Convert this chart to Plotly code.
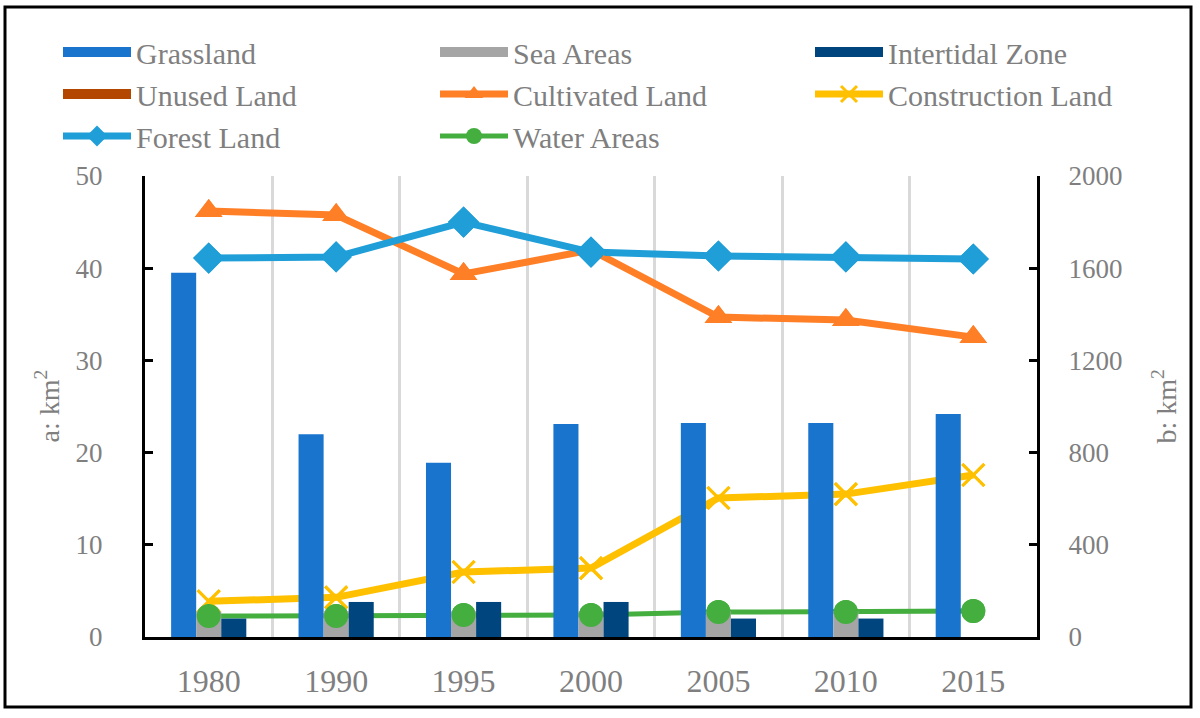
import plotly.graph_objects as go

years = ["1980", "1990", "1995", "2000", "2005", "2010", "2015"]

# left axis (a: km2) - bars
grassland = [39.5, 22.0, 18.9, 23.1, 23.2, 23.2, 24.2]
sea_areas = [2.8, 2.8, 2.8, 2.8, 2.8, 2.8, 0]
intertidal = [2.0, 3.8, 3.8, 3.8, 2.0, 2.0, 0]
unused = [0, 0, 0, 0, 0, 0, 0]

# right axis (b: km2) - lines
cultivated = [1848, 1831, 1575, 1679, 1388, 1375, 1301]
construction = [155, 172, 282, 299, 603, 620, 703]
forest = [1644, 1649, 1800, 1670, 1653, 1649, 1640]
water = [91, 91, 95, 95, 108, 108, 113]

left_ticks = [0, 10, 20, 30, 40, 50]
right_ticks = [0, 400, 800, 1200, 1600, 2000]

FONT = "Liberation Serif"
GREY = "#7f7f7f"

# plot area in px
L, R, T, B = 145, 163, 176, 81
W, H = 1200, 718
PW, PH = W - L - R, H - T - B


def px_x(p):
    return (p - L) / PW


def px_y(p):
    return (H - B - p) / PH


fig = go.Figure()

bars = [
    ("Grassland", grassland, "#1874CD", "legend", "y2"),
    ("Sea Areas", sea_areas, "#A5A5A5", "legend2", "y2"),
    ("Intertidal Zone", intertidal, "#00457E", "legend3", "y2"),
    ("Unused Land", unused, "#B34700", "legend", "y"),
]
for name, vals, col, lg, ax in bars:
    # legend entry drawn as a wide colour patch, like the reference
    fig.add_trace(go.Scatter(x=[None], y=[None], name=name, mode="lines", yaxis="y",
                             line=dict(color=col, width=18), legend=lg, legendgroup=name))
    fig.add_trace(go.Bar(x=years, y=vals, name=name, yaxis=ax, showlegend=False,
                         legendgroup=name, marker=dict(color=col, line=dict(width=0))))

lines = [
    ("Cultivated Land", cultivated, "#FF7F27", "triangle-up", 24, 7, "legend2"),
    ("Construction Land", construction, "#FFC000", "x-thin", 22, 7, "legend3"),
    ("Forest Land", forest, "#1F9ED8", "diamond", 24, 7, "legend"),
    ("Water Areas", water, "#44AE3F", "circle", 24, 5, "legend2"),
]
for name, vals, col, sym, sz, lw, lg in lines:
    mk = dict(symbol=sym, size=sz, color=col)
    if sym == "x-thin":
        mk["line"] = dict(color=col, width=3)
    fig.add_trace(go.Scatter(x=years, y=vals, name=name, mode="lines+markers", yaxis="y",
                             line=dict(color=col, width=lw), marker=mk, legend=lg,
                             legendgroup=name))
for name, vals, col, sym, sz, lw, lg in lines:
    mk = dict(symbol=sym, size=sz, color=col)
    if sym == "x-thin":
        mk["line"] = dict(color=col, width=3)
    fig.add_trace(go.Scatter(x=years, y=vals, name=name, mode="markers", yaxis="y3",
                             marker=mk, showlegend=False, legendgroup=name,
                             hoverinfo="skip"))

axis_common = dict(
    showline=True, linecolor="black", linewidth=3,
    ticks="inside", ticklen=8, tickwidth=3, tickcolor="black",
    showgrid=False, zeroline=False,
    tickfont=dict(family=FONT, size=27, color=GREY),
)

legend_common = dict(
    orientation="v", xanchor="left", yanchor="top", y=px_y(26),
    font=dict(family=FONT, size=30, color=GREY), itemwidth=68,
    bgcolor="rgba(0,0,0,0)", borderwidth=0, traceorder="normal",
)

fig.update_layout(
    width=W, height=H,
    margin=dict(l=L, r=R, t=T, b=B, autoexpand=False),
    paper_bgcolor="white", plot_bgcolor="white",
    barmode="group", bargap=0.41, bargroupgap=0,
    xaxis=dict(type="category", tickson="boundaries", ticks="",
               showgrid=True, gridcolor="#D9D9D9", gridwidth=3,
               showline=True, linecolor="black", linewidth=3,
               tickfont=dict(family=FONT, size=32, color=GREY),
               ticklabelstandoff=14),
    yaxis=dict(range=[0, 2000], tickvals=right_ticks, side="right",
               ticklabelstandoff=23, **axis_common),
    yaxis2=dict(range=[0, 50], tickvals=left_ticks, side="left", overlaying="y",
                ticklabelstandoff=34, **axis_common),
    yaxis3=dict(range=[0, 2000], overlaying="y", visible=False),
    legend=dict(x=px_x(58), **legend_common),
    legend2=dict(x=px_x(435), **legend_common),
    legend3=dict(x=px_x(810), **legend_common),
    showlegend=True,
    annotations=[
        dict(text="a: km<sup>2</sup>", xref="paper", yref="paper", x=px_x(48), y=0.5,
             xanchor="center", yanchor="middle",
             textangle=-90, showarrow=False, font=dict(family=FONT, size=28, color=GREY)),
        dict(text="b: km<sup>2</sup>", xref="paper", yref="paper", x=px_x(1165), y=0.5,
             xanchor="center", yanchor="middle",
             textangle=-90, showarrow=False, font=dict(family=FONT, size=28, color=GREY)),
    ],
    shapes=[
        dict(type="rect", xref="paper", yref="paper",
             x0=px_x(5), x1=px_x(1191), y0=px_y(707), y1=px_y(7),
             line=dict(color="black", width=3), layer="above"),
    ],
)

fig.write_html("out.html", config={"displayModeBar": False},
               post_script="document.body.style.margin='0px';")
